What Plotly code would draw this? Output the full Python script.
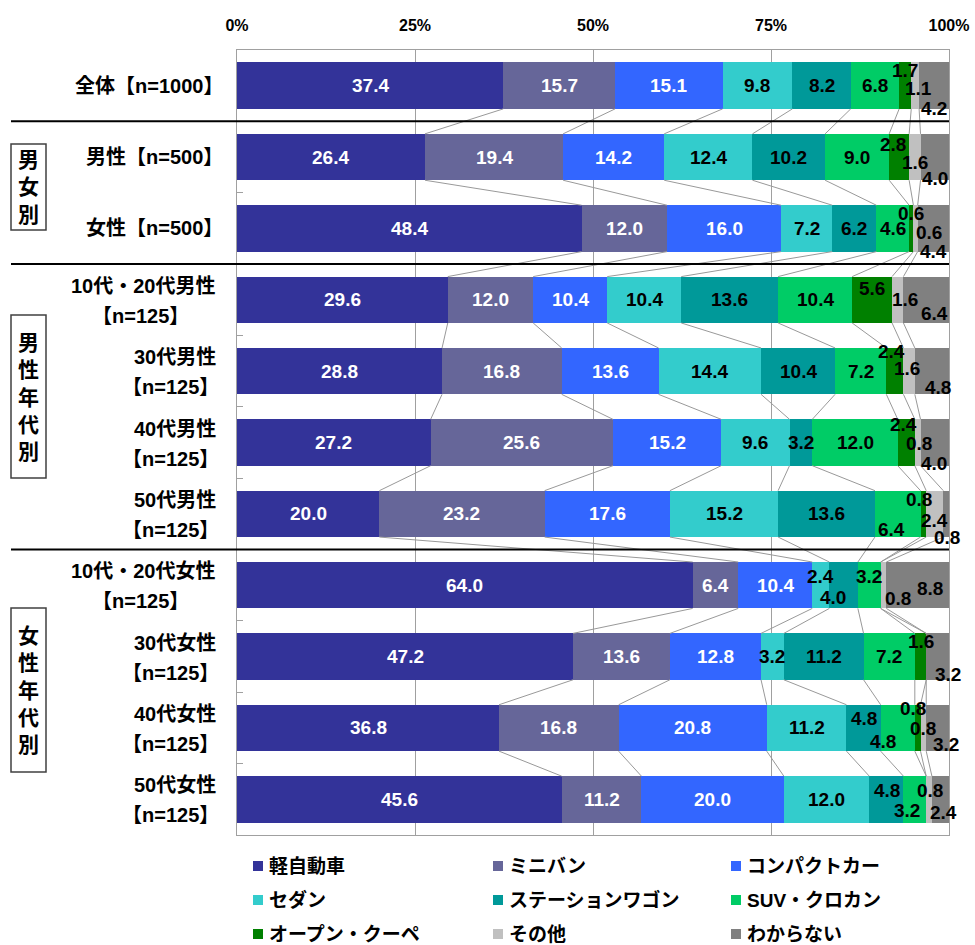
import plotly.graph_objects as go

# ---------------- data ----------------
categories = [["全体【n=1000】"], ["男性【n=500】"], ["女性【n=500】"],
              ["10代・20代男性", "【n=125】"], ["30代男性", "【n=125】"], ["40代男性", "【n=125】"],
              ["50代男性", "【n=125】"],
              ["10代・20代女性", "【n=125】"], ["30代女性", "【n=125】"], ["40代女性", "【n=125】"],
              ["50代女性", "【n=125】"]]

series_names = ["軽自動車", "ミニバン", "コンパクトカー", "セダン", "ステーションワゴン",
                "SUV・クロカン", "オープン・クーペ", "その他", "わからない"]

kei       = [37.4, 26.4, 48.4, 29.6, 28.8, 27.2, 20.0, 64.0, 47.2, 36.8, 45.6]
minivan   = [15.7, 19.4, 12.0, 12.0, 16.8, 25.6, 23.2, 6.4, 13.6, 16.8, 11.2]
compact   = [15.1, 14.2, 16.0, 10.4, 13.6, 15.2, 17.6, 10.4, 12.8, 20.8, 20.0]
sedan     = [9.8, 12.4, 7.2, 10.4, 14.4, 9.6, 15.2, 2.4, 3.2, 11.2, 12.0]
wagon     = [8.2, 10.2, 6.2, 13.6, 10.4, 3.2, 13.6, 4.0, 11.2, 4.8, 4.8]
suv       = [6.8, 9.0, 4.6, 10.4, 7.2, 12.0, 6.4, 3.2, 7.2, 4.8, 3.2]
open_coupe = [1.7, 2.8, 0.6, 5.6, 2.4, 2.4, 0.8, 0.0, 1.6, 0.8, 0.0]
other     = [1.1, 1.6, 0.6, 1.6, 1.6, 0.8, 2.4, 0.8, 0.0, 0.8, 0.8]
unknown   = [4.2, 4.0, 4.4, 6.4, 4.8, 4.0, 0.8, 8.8, 3.2, 3.2, 2.4]

group_labels = ["男<br>女<br>別", "男<br>性<br>年<br>代<br>別", "女<br>性<br>年<br>代<br>別"]
x_ticks = [0, 25, 50, 75, 100]
x_ticktext = ["0%", "25%", "50%", "75%", "100%"]

# ---------------- styles ----------------
colors = ["#333399", "#666699", "#3366FF", "#33CCCC", "#009999",
          "#00CC66", "#008000", "#C0C0C0", "#808080"]
label_colors = ["white", "white", "white", "black", "black", "black", "black", "black", "black"]
FONT = "Liberation Sans, Noto Sans CJK JP, sans-serif"

# label offsets (row, series) -> (dx, dy) in screen pixels (dy positive = down)
label_offsets = {
    (0, 6): (0, -15), (0, 7): (3, 3), (0, 8): (0, 23),
    (1, 6): (-6, -13), (1, 7): (0, 5), (1, 8): (0, 21),
    (2, 6): (0, -15), (2, 7): (13, 4), (2, 8): (0, 23),
    (3, 6): (0, -11), (3, 7): (7, 0), (3, 8): (8, 14),
    (4, 6): (-3, -20), (4, 7): (-2, -3), (4, 8): (6, 16),
    (5, 6): (-3, -18), (5, 7): (1, 1), (5, 8): (-1, 21),
    (6, 5): (-6, 16), (6, 6): (-4, -14), (6, 7): (0, 7), (6, 8): (1, 24),
    (7, 3): (0, -9), (7, 4): (-11, 12), (7, 5): (0, -9), (7, 7): (14, 13), (7, 8): (12, 3),
    (8, 6): (0, -15), (8, 8): (10, 18),
    (9, 4): (0, -9), (9, 5): (-15, 14), (9, 6): (-5, -19), (9, 7): (0, 1), (9, 8): (8, 17),
    (10, 4): (1, -9), (10, 5): (-8, 11), (10, 7): (1, -9), (10, 8): (3, 13),
}
# horizontal shift (px from plot left) of the second label line, per row
line2_shift = {3: -46, 7: -46}

W, H = 975, 945
ML, MR, MT, MB = 237, 26, 50, 110
PW, PH = W - ML - MR, H - MT - MB


def px_x(px):
    return (px - ML) / PW


def px_y(py):
    return (MT + PH - py) / PH


series_values = [kei, minivan, compact, sedan, wagon, suv, open_coupe, other, unknown]
rows = list(range(len(categories)))
BAR_W = 0.65

fig = go.Figure()

# connector (series) lines between consecutive bars
cums = []
for r in rows:
    c, acc = [], 0.0
    for s in series_values:
        acc += s[r]
        c.append(acc)
    cums.append(c)
cx, cy = [], []
for r in rows[:-1]:
    for k in range(len(series_values) - 1):
        cx += [cums[r][k], cums[r + 1][k], None]
        cy += [r + BAR_W / 2, r + 1 - BAR_W / 2, None]
fig.add_trace(go.Scatter(x=cx, y=cy, mode="lines", line=dict(color="#999999", width=1),
                         hoverinfo="skip", showlegend=False))

for name, vals, col in zip(series_names, series_values, colors):
    fig.add_trace(go.Bar(y=rows, x=vals, name=name, orientation="h", width=BAR_W,
                         marker=dict(color=col, line=dict(width=0)), showlegend=False))

annotations = []
# data labels
for r in rows:
    start = 0.0
    for k, vals in enumerate(series_values):
        v = vals[r]
        if v > 0:
            dx, dy = label_offsets.get((r, k), (0, 0))
            annotations.append(dict(x=start + v / 2, y=r, xref="x", yref="y", text=f"{v:.1f}",
                                    showarrow=False, xshift=dx, yshift=-dy,
                                    font=dict(family=FONT, size=19, color=label_colors[k], weight="bold")))
        start += v

# row labels
lab_font = dict(family=FONT, size=20, color="black", weight="bold")
for r, cat in zip(rows, categories):
    if len(cat) == 1:
        annotations.append(dict(x=0, y=r, xref="paper", yref="y", text=cat[0], showarrow=False,
                                xanchor="right", xshift=-12, font=lab_font))
    else:
        annotations.append(dict(x=0, y=r, xref="paper", yref="y", text=cat[0], showarrow=False,
                                xanchor="right", xshift=-19, yshift=14, font=lab_font))
        annotations.append(dict(x=0, y=r, xref="paper", yref="y", text=cat[1], showarrow=False,
                                xanchor="right", xshift=line2_shift.get(r, -16), yshift=-16,
                                font=lab_font))

shapes = []
# separator lines
for ysep in [0.5, 2.5, 6.5]:
    shapes.append(dict(type="line", xref="paper", yref="y", x0=px_x(11), x1=1, y0=ysep, y1=ysep,
                       line=dict(color="black", width=2)))

# group boxes
boxes = [(144, 230), (315, 478), (608, 772)]
for (y0, y1), txt in zip(boxes, group_labels):
    shapes.append(dict(type="rect", xref="paper", yref="paper", x0=px_x(11), x1=px_x(46),
                       y0=px_y(y1), y1=px_y(y0), line=dict(color="#404040", width=1.5),
                       fillcolor="white", layer="above"))
    annotations.append(dict(x=px_x(28.5), y=px_y((y0 + y1) / 2), xref="paper", yref="paper",
                            text=txt, showarrow=False, xanchor="center", yanchor="middle", align="center",
                            font=dict(family=FONT, size=21, color="black", weight="bold")))

# manual legend
col_x = [253, 493, 731]
row_y = [866, 900, 934]
for i, (name, col) in enumerate(zip(series_names, colors)):
    lx, ly = col_x[i % 3], row_y[i // 3]
    shapes.append(dict(type="rect", xref="paper", yref="paper", x0=px_x(lx), x1=px_x(lx + 10),
                       y0=px_y(ly + 5), y1=px_y(ly - 5), fillcolor=col, line=dict(width=0)))
    annotations.append(dict(x=px_x(lx + 14), y=px_y(ly), xref="paper", yref="paper", text=name,
                            showarrow=False, xanchor="left", yanchor="middle",
                            font=dict(family=FONT, size=19, color="black", weight="bold")))

fig.update_layout(
    width=W, height=H, margin=dict(l=ML, r=MR, t=MT, b=MB, autoexpand=False),
    barmode="stack", bargap=0, paper_bgcolor="white", plot_bgcolor="white",
    showlegend=False, annotations=annotations, shapes=shapes,
    font=dict(family=FONT),
)
fig.update_xaxes(side="top", range=[0, 100], tickvals=x_ticks, ticktext=x_ticktext,
                 showgrid=True, gridcolor="#A0A0A0", gridwidth=1, zeroline=False,
                 showline=True, linecolor="#A0A0A0", linewidth=1, mirror=True,
                 ticks="", ticklabelstandoff=12, automargin=False,
                 tickfont=dict(family=FONT, size=16, color="black", weight="bold"))
fig.update_yaxes(range=[10.5, -0.5], tickvals=[r + 0.5 for r in rows[:-1]], showticklabels=False,
                 ticks="inside", ticklen=6, tickcolor="#A0A0A0", showgrid=False, zeroline=False,
                 showline=True, linecolor="#A0A0A0", linewidth=1, mirror=True, automargin=False)

fig.write_html("out.html")
